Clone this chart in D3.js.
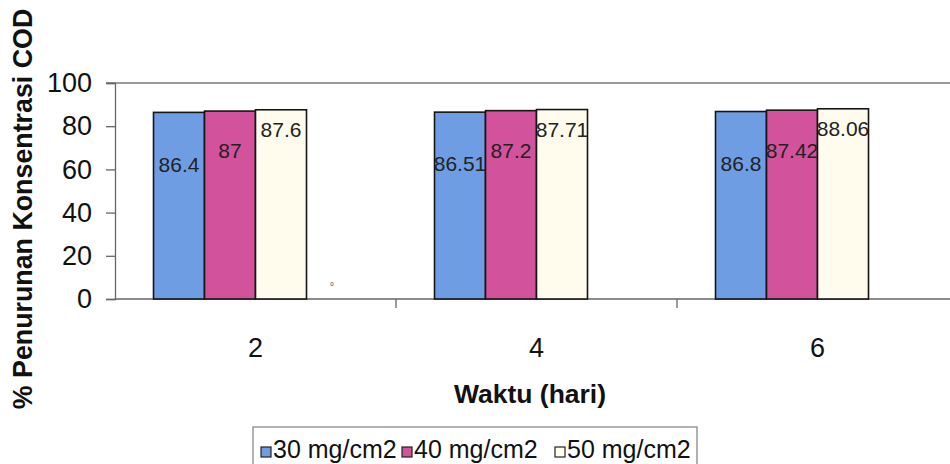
<!DOCTYPE html>
<html>
<head>
<meta charset="utf-8">
<script src="https://cdn.jsdelivr.net/npm/d3@7"></script>
<style>
  body { margin: 0; background: #fff; }
  svg { display: block; font-family: "Liberation Sans", Arial, sans-serif; }
</style>
</head>
<body>
<svg width="950" height="464"></svg>
<script>
// data
var days = ["2", "4", "6"];
var seriesNames = ["30 mg/cm2", "40 mg/cm2", "50 mg/cm2"];
var dose30 = [86.4, 86.51, 86.8];
var dose40 = [87, 87.2, 87.42];
var dose50 = [87.6, 87.71, 88.06];
var blankSeries = [0, null, null]; // stray 4th series, only its "0" label shows
var yTicks = [0, 20, 40, 60, 80, 100];

var colors = ["#6e9de4", "#d2529b", "#fffcee"];
var labelDrop = [52, 40, 20];

const chart = {
    init: function () {
        var svg = d3.select("svg");
        var allSeries = [dose30, dose40, dose50, blankSeries];

        var x = d3.scaleBand().domain(days).range([115, 958]).padding(0);
        var xs = d3.scaleBand().domain(d3.range(4)).range([0, x.bandwidth()])
            .paddingInner(0).paddingOuter(0.755);
        var y = d3.scaleLinear().domain([0, 100]).range([299, 83]);

        // top border of plot area
        svg.append("line")
            .attr("x1", 106).attr("x2", 958)
            .attr("y1", y(100)).attr("y2", y(100))
            .attr("stroke", "#777").attr("stroke-width", 1.3);

        // y axis
        var yAxis = svg.append("g")
            .attr("transform", "translate(115,0)")
            .call(d3.axisLeft(y).tickValues(yTicks).tickSize(9).tickPadding(14));
        yAxis.select(".domain").attr("stroke", "#666").attr("stroke-width", 1.3);
        yAxis.selectAll(".tick line").attr("stroke", "#666").attr("stroke-width", 1.3);
        yAxis.selectAll("text")
            .attr("font-size", 27).attr("fill", "#111")
            .attr("font-family", "Liberation Sans, Arial, sans-serif");

        // x axis: ticks at category boundaries
        var xAxisG = svg.append("g");
        xAxisG.append("line")
            .attr("x1", 115).attr("x2", 958)
            .attr("y1", y(0)).attr("y2", y(0))
            .attr("stroke", "#666").attr("stroke-width", 1.3);
        xAxisG.selectAll("line.tk")
            .data(days)
            .enter().append("line")
            .attr("class", "tk")
            .attr("x1", d => x(d) + x.bandwidth()).attr("x2", d => x(d) + x.bandwidth())
            .attr("y1", y(0)).attr("y2", y(0) + 9)
            .attr("stroke", "#666").attr("stroke-width", 1.3);
        xAxisG.selectAll("text")
            .data(days)
            .enter().append("text")
            .attr("x", d => x(d) + x.bandwidth() / 2)
            .attr("y", 357)
            .attr("text-anchor", "middle")
            .attr("font-size", 27)
            .attr("fill", "#111")
            .text(d => d);

        // bars
        var groups = svg.selectAll("g.grp")
            .data(days)
            .enter().append("g")
            .attr("class", "grp")
            .attr("transform", d => "translate(" + x(d) + ",0)");

        [0, 1, 2].forEach(function (s) {
            groups.append("rect")
                .attr("x", xs(s))
                .attr("width", xs.bandwidth())
                .attr("y", (d, i) => y(allSeries[s][i]))
                .attr("height", (d, i) => y(0) - y(allSeries[s][i]))
                .attr("fill", colors[s])
                .attr("stroke", "#151515")
                .attr("stroke-width", 1.6);
        });

        // value labels
        [0, 1, 2].forEach(function (s) {
            groups.append("text")
                .attr("x", xs(s) + xs.bandwidth() / 2)
                .attr("y", (d, i) => y(allSeries[s][i]) + labelDrop[s])
                .attr("dy", "0.35em")
                .attr("text-anchor", "middle")
                .attr("font-size", 21)
                .attr("fill", "#222")
                .text((d, i) => allSeries[s][i]);
        });

        // tiny label of the empty 4th series
        groups.filter((d, i) => blankSeries[i] !== null)
            .append("text")
            .attr("x", xs(3) + xs.bandwidth() / 2)
            .attr("y", (d, i) => y(0) - 13)
            .attr("text-anchor", "middle")
            .attr("font-size", 6)
            .attr("fill", "#333")
            .text(d => blankSeries[days.indexOf(d)]);

        // axis titles
        svg.append("text")
            .attr("x", 530).attr("y", 403)
            .attr("text-anchor", "middle")
            .attr("font-size", 26.5)
            .attr("font-weight", "bold")
            .attr("fill", "#111")
            .text("Waktu (hari)");

        svg.append("text")
            .attr("transform", "translate(32,209) rotate(-90)")
            .attr("text-anchor", "middle")
            .attr("font-size", 26.8)
            .attr("font-weight", "bold")
            .attr("fill", "#111")
            .text("% Penurunan Konsentrasi COD");

        // legend
        var legend = svg.append("g");
        legend.append("rect")
            .attr("x", 253).attr("y", 427)
            .attr("width", 444).attr("height", 50)
            .attr("fill", "none")
            .attr("stroke", "#888").attr("stroke-width", 1.3);
        var legendX = [261, 402, 555];
        seriesNames.forEach(function (name, i) {
            legend.append("rect")
                .attr("x", legendX[i]).attr("y", 447)
                .attr("width", 10).attr("height", 10)
                .attr("fill", colors[i])
                .attr("stroke", "#222").attr("stroke-width", 1.2);
            legend.append("text")
                .attr("x", legendX[i] + 12).attr("y", 458)
                .attr("font-size", 25)
                .attr("fill", "#111")
                .text(name);
        });
    }
};

document.addEventListener("DOMContentLoaded", function () {
    chart.init();
});
</script>
</body>
</html>
